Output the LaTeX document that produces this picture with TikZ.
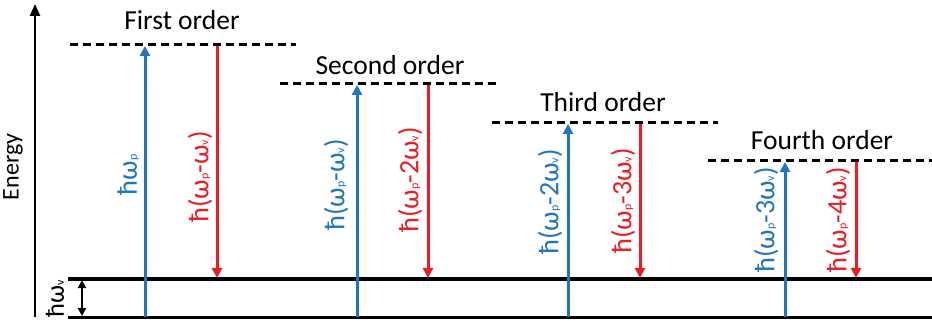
\documentclass[tikz,border=0pt]{standalone}
\usepackage{fontspec}
\setmainfont{Carlito}
\usetikzlibrary{arrows.meta}
\definecolor{pblue}{RGB}{31,118,192}
\definecolor{pred}{RGB}{237,28,36}
\newcommand\sbs[1]{{\fontsize{12}{12}\selectfont #1}}
\begin{document}
\begin{tikzpicture}[x=1pt,y=-1pt,
  level/.style={line width=3pt},
  virt/.style={line width=3pt,dash pattern=on 8pt off 5pt},
  up/.style={pblue,line width=3pt,-{Triangle[length=10pt,width=10pt]}},
  down/.style={pred,line width=3pt,-{Triangle[length=10pt,width=10pt]}},
  title/.style={font=\fontsize{27.5}{30}\selectfont},
  lab/.style={rotate=90,font=\fontsize{28}{30}\selectfont,inner sep=0pt},
  axis/.style={line width=2.6pt,-{Triangle[length=12pt,width=10pt]}}]
\useasboundingbox (0,0) rectangle (932,323);
% axis
\coordinate (ax0) at (35,317);
\coordinate (ax1) at (35,4);
\draw[axis] (ax0) -- (ax1);
\node[rotate=90,font=\fontsize{24}{26}\selectfont,inner sep=0pt] (energy) at (13,167) {Energy};
% levels
\coordinate (g0) at (68,317); \coordinate (g1) at (932,317);
\coordinate (v0) at (68,279); \coordinate (v1) at (932,279);
\draw[level] (g0) -- (g1);
\draw[level] (v0) -- (v1);
\coordinate (dv0) at (82,280); \coordinate (dv1) at (82,316);
\draw[line width=2.2pt,{Triangle[length=8pt,width=8pt]}-{Triangle[length=8pt,width=8pt]}] (dv0) -- (dv1);
\node[lab,font=\fontsize{26}{28}\selectfont] (hwv) at (55,299) {ħω\sbs{v}};
% virtual levels
\coordinate (a0) at (70,45); \coordinate (a1) at (296,45);
\coordinate (b0) at (280,84); \coordinate (b1) at (500,84);
\coordinate (c0) at (492,123); \coordinate (c1) at (718,123);
\coordinate (d0) at (708,161); \coordinate (d1) at (932,161);
\draw[virt] (a0) -- (a1);
\draw[virt] (b0) -- (b1);
\draw[virt] (c0) -- (c1);
\draw[virt] (d0) -- (d1);
\node[title] (t1) at (182,20) {First order};
\node[title] (t2) at (390,65) {Second order};
\node[title] (t3) at (603,102) {Third order};
\node[title] (t4) at (822,140) {Fourth order};
% arrows
\coordinate (u1a) at (145,317); \coordinate (u1b) at (145,46);
\coordinate (r1a) at (217,46); \coordinate (r1b) at (217,278);
\coordinate (u2a) at (357,317); \coordinate (u2b) at (357,85);
\coordinate (r2a) at (428,85); \coordinate (r2b) at (428,278);
\coordinate (u3a) at (568,317); \coordinate (u3b) at (568,124);
\coordinate (r3a) at (640,124); \coordinate (r3b) at (640,278);
\coordinate (u4a) at (785,317); \coordinate (u4b) at (785,162);
\coordinate (r4a) at (856,162); \coordinate (r4b) at (856,278);
\draw[up] (u1a) -- (u1b);
\draw[down] (r1a) -- (r1b);
\draw[up] (u2a) -- (u2b);
\draw[down] (r2a) -- (r2b);
\draw[up] (u3a) -- (u3b);
\draw[down] (r3a) -- (r3b);
\draw[up] (u4a) -- (u4b);
\draw[down] (r4a) -- (r4b);
% labels
\node[lab,pblue] (l1) at (128,175) {ħω\sbs{p}};
\node[lab,pred] (l2) at (200,177) {ħ(ω\sbs{p}-ω\sbs{v})};
\node[lab,pblue] (l3) at (336,185) {ħ(ω\sbs{p}-ω\sbs{v})};
\node[lab,pred] (l4) at (410,180) {ħ(ω\sbs{p}-2ω\sbs{v})};
\node[lab,pblue] (l5) at (550,202) {ħ(ω\sbs{p}-2ω\sbs{v})};
\node[lab,pred] (l6) at (623,201) {ħ(ω\sbs{p}-3ω\sbs{v})};
\node[lab,pblue] (l7) at (766,220) {ħ(ω\sbs{p}-3ω\sbs{v})};
\node[lab,pred] (l8) at (838,220) {ħ(ω\sbs{p}-4ω\sbs{v})};
\end{tikzpicture}
\end{document}
